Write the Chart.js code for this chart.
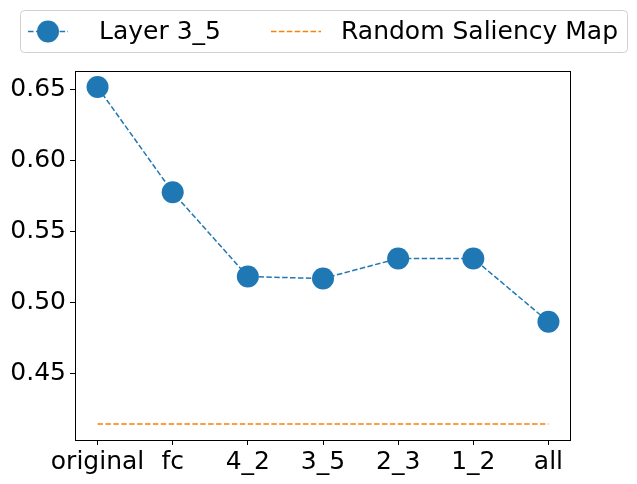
<!DOCTYPE html>
<html>
<head>
<meta charset="utf-8">
<script src="https://cdn.jsdelivr.net/npm/chart.js@4"></script>
<style>
  html, body { margin: 0; padding: 0; background: #fff; }
  #wrap { width: 637px; height: 484px; }
</style>
</head>
<body>
<div id="wrap"><canvas id="myChart" width="637" height="484"></canvas></div>
<script>
const categories = ['original', 'fc', '4_2', '3_5', '2_3', '1_2', 'all'];
const layerValues = [0.6514, 0.5775, 0.5183, 0.5169, 0.5310, 0.5310, 0.4866];
const randomValue = 0.4148;
const yTicks = [0.45, 0.50, 0.55, 0.60, 0.65];

const BLUE = '#1f77b4';
const ORANGE = '#ff7f0e';
const FONT = { family: 'DejaVu Sans', size: 25 };

// box round the plot area (matplotlib spines)
const frame = {
    id: 'frame',
    afterDraw(chart) {
        const a = chart.chartArea;
        const ctx = chart.ctx;
        ctx.save();
        ctx.strokeStyle = '#000';
        ctx.lineWidth = 1;
        ctx.strokeRect(Math.round(a.left) + 0.5, Math.round(a.top) + 0.5,
            Math.round(a.right - a.left) - 1, Math.round(a.bottom - a.top));
        ctx.restore();
    }
};

// legend drawn by hand: line with marker, like matplotlib
const legendBox = {
    id: 'legendBox',
    afterDraw(chart) {
        const ctx = chart.ctx;
        ctx.save();
        ctx.fillStyle = 'rgba(255,255,255,0.8)';
        ctx.strokeStyle = '#d0d0d0';
        ctx.lineWidth = 1;
        ctx.beginPath();
        ctx.roundRect(20.5, 10.5, 607, 42, 4);
        ctx.fill();
        ctx.stroke();

        const y = 31.5;
        ctx.setLineDash([5.5, 2.4]);
        ctx.lineWidth = 1.5;
        ctx.strokeStyle = BLUE;
        ctx.beginPath(); ctx.moveTo(28, y); ctx.lineTo(68, y); ctx.stroke();
        ctx.strokeStyle = ORANGE;
        ctx.beginPath(); ctx.moveTo(271, y); ctx.lineTo(321, y); ctx.stroke();
        ctx.setLineDash([]);
        ctx.fillStyle = BLUE;
        ctx.beginPath(); ctx.arc(48, y, 11, 0, Math.PI * 2); ctx.fill();

        ctx.fillStyle = '#000';
        ctx.font = '25px "DejaVu Sans"';
        ctx.textBaseline = 'middle';
        ctx.fillText('Layer 3_5', 99, y + 1);
        ctx.fillText('Random Saliency Map', 341, y + 1);
        ctx.restore();
    }
};

const ctx = document.querySelector('#myChart').getContext('2d');
const myChart = new Chart(ctx, {
    type: 'line',
    data: {
        datasets: [{
            label: 'Layer 3_5',
            data: layerValues.map((v, i) => ({ x: i, y: v })),
            borderColor: BLUE,
            backgroundColor: BLUE,
            borderWidth: 1.5,
            borderDash: [5.5, 2.4],
            pointRadius: 11,
            pointHoverRadius: 11,
            pointBorderWidth: 0,
            tension: 0
        }, {
            label: 'Random Saliency Map',
            data: categories.map((c, i) => ({ x: i, y: randomValue })),
            borderColor: ORANGE,
            borderWidth: 1.5,
            borderDash: [5.5, 2.4],
            pointRadius: 0,
            tension: 0
        }]
    },
    options: {
        responsive: false,
        animation: false,
        layout: { padding: { top: 71, right: 66, left: 0, bottom: 0 } },
        plugins: { legend: { display: false }, tooltip: { enabled: false } },
        scales: {
            x: {
                type: 'linear',
                min: -0.3,
                max: 6.3,
                afterFit(axis) { axis.height = 44; },
                afterBuildTicks(axis) { axis.ticks = categories.map((c, i) => ({ value: i })); },
                ticks: {
                    color: '#000',
                    font: FONT,
                    padding: 2,
                    maxRotation: 0,
                    autoSkip: false,
                    callback: (v) => categories[v]
                },
                grid: { display: true, drawOnChartArea: false, drawTicks: true, tickLength: 5, color: '#000' },
                border: { display: false }
            },
            y: {
                min: 0.4035,
                max: 0.6627,
                afterFit(axis) { axis.width = 75; },
                afterBuildTicks(axis) { axis.ticks = yTicks.map(v => ({ value: v })); },
                ticks: {
                    color: '#000',
                    font: FONT,
                    padding: 4,
                    callback: (v) => v.toFixed(2)
                },
                grid: { display: true, drawOnChartArea: false, drawTicks: true, tickLength: 5, color: '#000' },
                border: { display: false }
            }
        }
    },
    plugins: [frame, legendBox]
});
</script>
</body>
</html>
